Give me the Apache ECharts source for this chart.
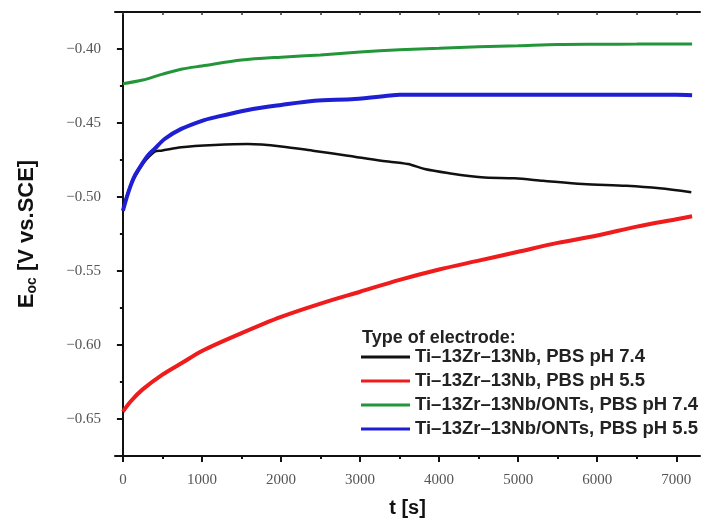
<!DOCTYPE html>
<html>
<head>
<meta charset="utf-8">
<script src="https://cdn.jsdelivr.net/npm/echarts@6/dist/echarts.min.js"></script>
<style>
  html, body { margin: 0; padding: 0; background: #ffffff; }
  #chart { width: 708px; height: 520px; }
</style>
</head>
<body>
<div id="chart"></div>
<script>
// Open-circuit potential vs. time for four electrode / electrolyte combinations
var seriesNames = [
  'Ti\u201313Zr\u201313Nb, PBS pH 7.4',
  'Ti\u201313Zr\u201313Nb, PBS pH 5.5',
  'Ti\u201313Zr\u201313Nb/ONTs, PBS pH 7.4',
  'Ti\u201313Zr\u201313Nb/ONTs, PBS pH 5.5'
];

// Ti-13Zr-13Nb, pH 7.4
var tBlack = [0, 100, 200, 300, 420, 485, 738, 1160, 1581, 2003, 2425, 2846, 3268, 3606, 3817, 4111, 4533, 4955, 5313, 5819, 6368, 6789, 7190];
var eBlack = [-0.507, -0.492, -0.482, -0.4745, -0.469, -0.4687, -0.4664, -0.4649, -0.4642, -0.4658, -0.4689, -0.4721, -0.4755, -0.4777, -0.4811, -0.4838, -0.4867, -0.4874, -0.489, -0.4912, -0.4924, -0.4941, -0.4968];

// Ti-13Zr-13Nb, pH 5.5
var tRed = [0, 100, 250, 500, 750, 1000, 1500, 2000, 2500, 3000, 3500, 4000, 4500, 5000, 5500, 6000, 6500, 7000, 7200];
var eRed = [-0.645, -0.638, -0.630, -0.620, -0.612, -0.604, -0.592, -0.581, -0.572, -0.564, -0.556, -0.549, -0.543, -0.537, -0.531, -0.526, -0.520, -0.515, -0.513];

// Ti-13Zr-13Nb/ONTs, pH 7.4
var tGreen = [0, 250, 500, 750, 1000, 1500, 2000, 2500, 3000, 3500, 4000, 4500, 5000, 5500, 6000, 6500, 7000, 7200];
var eGreen = [-0.4235, -0.421, -0.417, -0.4135, -0.4115, -0.4075, -0.4055, -0.404, -0.402, -0.4005, -0.3995, -0.3985, -0.3978, -0.397, -0.3968, -0.3967, -0.3966, -0.3966];

// Ti-13Zr-13Nb/ONTs, pH 5.5
var tBlue = [0, 50, 100, 150, 250, 316, 400, 527, 738, 1000, 1160, 1581, 2003, 2425, 2931, 3416, 3500, 4000, 5000, 6000, 7000, 7200];
var eBlue = [-0.5093, -0.500, -0.492, -0.4856, -0.477, -0.472, -0.4675, -0.4608, -0.454, -0.4485, -0.4462, -0.4412, -0.4378, -0.4349, -0.4338, -0.4312, -0.4309, -0.4309, -0.4309, -0.4309, -0.4309, -0.4312];

// Axis ticks
var xTicks = [0, 1000, 2000, 3000, 4000, 5000, 6000, 7000];
var xMinorTicks = [500, 1500, 2500, 3500, 4500, 5500, 6500];
var yTicks = [-0.65, -0.60, -0.55, -0.50, -0.45, -0.40];
var yMinorTicks = [-0.625, -0.575, -0.525, -0.475, -0.425];

var colors = ['#111111', '#ee1c1c', '#23963a', '#1e1ed2'];
var widths = [2.5, 4, 3, 4];

function pairs(t, v) { return t.map(function (x, i) { return [x, v[i]]; }); }
var dataSets = [pairs(tBlack, eBlack), pairs(tRed, eRed), pairs(tGreen, eGreen), pairs(tBlue, eBlue)];

var X_MIN = -100, X_MAX = 7300, Y_MIN = -0.675, Y_MAX = -0.375;
var serif = '"Liberation Serif", "DejaVu Serif", serif';
var sans = '"Liberation Sans", Arial, sans-serif';

var topTicks = xTicks.concat(xMinorTicks).sort(function (a, b) { return a - b; });

var chart = echarts.init(document.getElementById('chart'), null, { renderer: 'canvas' });
chart.setOption({
  animation: false,
  backgroundColor: '#ffffff',
  grid: { left: 115, right: 8, top: 12, bottom: 64, outerBoundsMode: 'none', containLabel: false },
  title: {
    text: 'Type of electrode:',
    left: 362, top: 327, padding: 0,
    textStyle: { fontFamily: sans, fontSize: 18, fontWeight: 'bold', color: '#222', lineHeight: 22 }
  },
  legend: {
    data: seriesNames,
    orient: 'vertical',
    left: 361, top: 347, padding: 0,
    icon: 'rect',
    itemWidth: 49, itemHeight: 3, itemGap: 4,
    textStyle: { fontFamily: sans, fontSize: 18.5, fontWeight: 'bold', color: '#222', lineHeight: 20 }
  },
  xAxis: [
    {
      type: 'value', position: 'bottom', min: X_MIN, max: X_MAX,
      name: 't [s]', nameLocation: 'middle', nameGap: 42,
      nameTextStyle: { fontFamily: sans, fontSize: 20, fontWeight: 'bold', color: '#111' },
      axisLine: { show: true, lineStyle: { color: '#111', width: 2 } },
      axisTick: { show: true, inside: false, length: 6, customValues: xTicks, lineStyle: { color: '#111', width: 2 } },
      axisLabel: { show: true, customValues: xTicks, margin: 17, fontFamily: serif, fontSize: 15, color: '#555',
        formatter: function (v) { return String(v); } },
      splitLine: { show: false }
    },
    {
      type: 'value', position: 'bottom', min: X_MIN, max: X_MAX,
      axisLine: { show: false },
      axisTick: { show: true, inside: false, length: 3, customValues: xMinorTicks, lineStyle: { color: '#111', width: 2 } },
      axisLabel: { show: false, customValues: xMinorTicks },
      splitLine: { show: false }
    },
    {
      type: 'value', position: 'top', min: X_MIN, max: X_MAX,
      axisLine: { show: true, lineStyle: { color: '#111', width: 2 } },
      axisTick: { show: true, inside: true, length: 3, customValues: topTicks, lineStyle: { color: '#333', width: 1.5 } },
      axisLabel: { show: false, customValues: topTicks },
      splitLine: { show: false }
    }
  ],
  yAxis: [
    {
      type: 'value', position: 'left', min: Y_MIN, max: Y_MAX,
      name: '{b|E}{s|oc}{b| [V vs.SCE]}', nameLocation: 'middle', nameGap: 76, nameRotate: 90,
      nameTextStyle: {
        rich: {
          b: { fontFamily: sans, fontSize: 22, fontWeight: 'bold', color: '#111' },
          s: { fontFamily: sans, fontSize: 14, fontWeight: 'bold', color: '#111', padding: [10, 0, 0, 0] }
        }
      },
      axisLine: { show: true, lineStyle: { color: '#111', width: 2 } },
      axisTick: { show: true, inside: false, length: 6, customValues: yTicks, lineStyle: { color: '#111', width: 2 } },
      axisLabel: { show: true, customValues: yTicks, margin: 14, fontFamily: serif, fontSize: 15, color: '#555',
        formatter: function (v) { return (v < 0 ? '\u2212' : '') + Math.abs(v).toFixed(2); } },
      splitLine: { show: false }
    },
    {
      type: 'value', position: 'left', min: Y_MIN, max: Y_MAX,
      axisLine: { show: false },
      axisTick: { show: true, inside: false, length: 3, customValues: yMinorTicks, lineStyle: { color: '#111', width: 2 } },
      axisLabel: { show: false, customValues: yMinorTicks },
      splitLine: { show: false }
    }
  ],
  series: seriesNames.map(function (name, i) {
    return {
      name: name,
      type: 'line',
      xAxisIndex: 0, yAxisIndex: 0,
      data: dataSets[i],
      symbol: 'none',
      smooth: 0.3,
      color: colors[i],
      lineStyle: { color: colors[i], width: widths[i] },
      z: 2 + i
    };
  })
});
</script>
</body>
</html>
